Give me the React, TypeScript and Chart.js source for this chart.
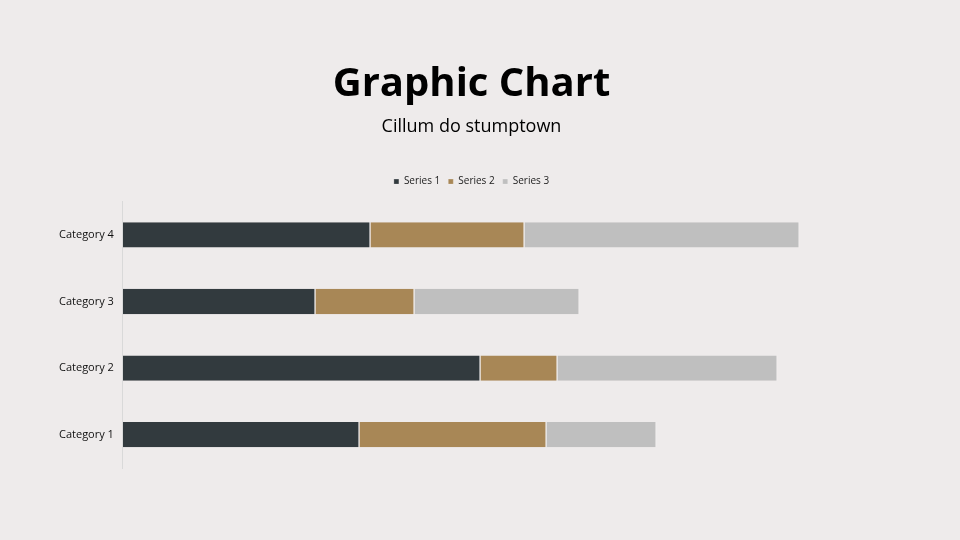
import { useEffect, useRef } from 'react';
import { Chart, registerables } from 'chart.js';

Chart.register(...registerables);

const categories = ['Category 1', 'Category 2', 'Category 3', 'Category 4'];
const series1 = [4.3, 6.5, 3.5, 4.5];
const series2 = [3.4, 1.4, 1.8, 2.8];
const series3 = [2, 4, 3, 5];
const seriesNames = ['Series 1', 'Series 2', 'Series 3'];

const BG = '#eeebeb';
const FONT = '"Open Sans", "Noto Sans", sans-serif';

// push the plot area a little below the legend
const legendGap = {
  id: 'legendGap',
  beforeInit(chart: any) {
    const fit = chart.legend.fit;
    chart.legend.fit = function () {
      fit.bind(chart.legend)();
      this.height += 5;
    };
  },
};

export default function App() {
  const canvasRef = useRef<HTMLCanvasElement>(null);

  useEffect(() => {
    document.body.style.margin = '0';
    document.body.style.background = BG;
    const canvas = canvasRef.current;
    if (!canvas) return;

    const seg = (label: string, data: number[], color: string) => ({
      label,
      data,
      backgroundColor: color,
      borderColor: '#f6f3f3',
      borderWidth: { left: 0, right: 1, top: 0, bottom: 0 },
      borderSkipped: false as const,
      barPercentage: 0.38,
      categoryPercentage: 1,
    });

    const chart = new Chart(canvas, {
      type: 'bar',
      data: {
        labels: categories,
        datasets: [
          seg(seriesNames[0], series1, '#323a3e'),
          seg(seriesNames[1], series2, '#a88756'),
          seg(seriesNames[2], series3, '#bfbfbf'),
        ],
      },
      options: {
        indexAxis: 'y',
        animation: false,
        responsive: false,
        layout: { padding: { left: 50, right: 67, bottom: 72, top: 0 } },
        scales: {
          x: { stacked: true, min: 0, max: 14, display: false },
          y: {
            stacked: true,
            reverse: true,
            grid: { display: false, drawTicks: false },
            border: { display: true, color: '#d9d9d9', width: 1 },
            ticks: { color: '#111', font: { family: FONT, size: 11 }, padding: 9 },
          },
        },
        plugins: {
          title: {
            display: true,
            text: 'Graphic Chart',
            color: '#000',
            font: { family: FONT, size: 40, weight: 'bold' },
            padding: { top: 61, bottom: 7 },
          },
          subtitle: {
            display: true,
            text: 'Cillum do stumptown',
            color: '#000',
            font: { family: FONT, size: 18 },
            padding: { top: 0, bottom: 31 },
          },
          legend: {
            display: true,
            labels: {
              boxWidth: 5,
              boxHeight: 5,
              padding: 8,
              color: '#222',
              font: { family: FONT, size: 10 },
            },
          },
          tooltip: { enabled: false },
        },
      },
      plugins: [legendGap],
    });

    return () => chart.destroy();
  }, []);

  return (
    <div style={{ width: 960, height: 540, background: BG }}>
      <canvas ref={canvasRef} width={960} height={540} />
    </div>
  );
}
